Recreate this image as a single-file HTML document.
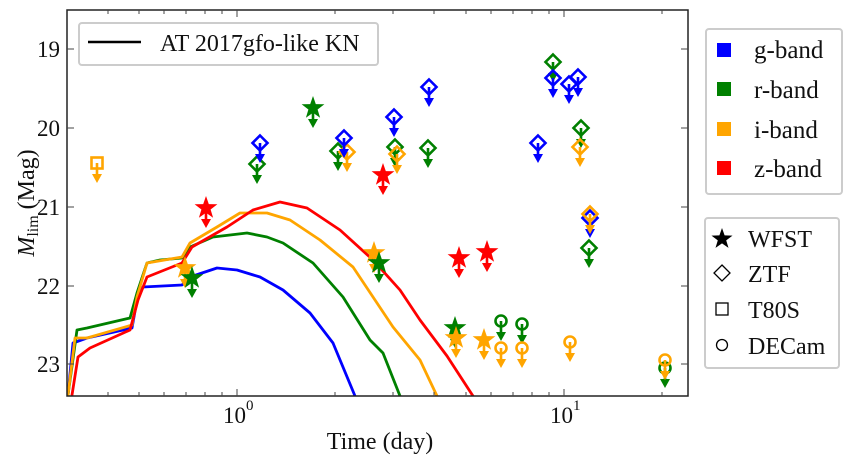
<!DOCTYPE html>
<html><head><meta charset="utf-8"><style>
body{margin:0;background:#fff}
svg{display:block}
text{font-family:"Liberation Serif",serif;fill:#111}
</style></head><body>
<svg width="852" height="465" viewBox="0 0 852 465" xmlns="http://www.w3.org/2000/svg">
<defs>
<g id="arr"><line x1="0" y1="0" x2="0" y2="14" stroke="currentColor" stroke-width="2.6"/><polygon points="-5,11 5,11 0,20" fill="currentColor"/></g>
<g id="dia"><polygon points="0,-7.5 7.5,0 0,7.5 -7.5,0" fill="none" stroke="currentColor" stroke-width="2.6"/><use href="#arr"/></g>
<g id="sq"><rect x="-5.5" y="-5.5" width="11" height="11" fill="none" stroke="currentColor" stroke-width="2.6"/><use href="#arr"/></g>
<g id="cir"><circle r="5.5" fill="none" stroke="currentColor" stroke-width="2.6"/><use href="#arr"/></g>
<g id="star"><polygon points="0,-12 2.8,-3.9 11.4,-3.7 4.6,1.5 7.1,9.7 0,4.8 -7.1,9.7 -4.6,1.5 -11.4,-3.7 -2.8,-3.9" fill="currentColor"/><use href="#arr"/></g>
<clipPath id="cp"><rect x="67" y="10" width="621" height="386"/></clipPath>
</defs>
<g clip-path="url(#cp)" fill="none" stroke-width="2.8" stroke-linejoin="round" stroke-linecap="round">
<polyline stroke="#0000ff" points="68,395 73,343 87,338 132,328 137,300 143,287 182,285 190,277 217,268 237,270 260,277 283,290 310,313 333,343 355,396"/>
<polyline stroke="#008000" points="68,395 77,330 87,328 130,318 137,293 147,263 160,260 182,258 190,247 213,237 247,233 267,237 283,243 313,263 343,297 370,340 383,353 400,396"/>
<polyline stroke="#ffa500" points="68,395 75,338 87,338 132,325 137,297 147,263 182,257 190,243 217,227 240,213 267,213 290,220 320,240 353,267 377,303 393,327 420,360 437,396"/>
<polyline stroke="#ff0000" points="72,395 78,357 90,348 130,330 138,300 147,277 182,263 192,247 227,227 253,210 280,202 307,208 340,230 373,260 400,290 420,320 447,356 473,396"/>
</g>
<g>
<use href="#sq" x="97" y="163" style="color:#ffa500"/>
<use href="#dia" x="257" y="164" style="color:#008000"/>
<use href="#dia" x="260" y="143" style="color:#0000ff"/>
<use href="#star" x="206" y="208" style="color:#ff0000"/>
<use href="#star" x="185" y="268" style="color:#ffa500"/>
<use href="#star" x="192" y="278" style="color:#008000"/>
<use href="#star" x="313" y="108" style="color:#008000"/>
<use href="#dia" x="338" y="151" style="color:#008000"/>
<use href="#dia" x="347" y="152" style="color:#ffa500"/>
<use href="#dia" x="344" y="138" style="color:#0000ff"/>
<use href="#dia" x="395" y="147" style="color:#008000"/>
<use href="#dia" x="397" y="154" style="color:#ffa500"/>
<use href="#dia" x="394" y="117" style="color:#0000ff"/>
<use href="#star" x="383" y="175" style="color:#ff0000"/>
<use href="#star" x="374" y="253" style="color:#ffa500"/>
<use href="#star" x="379" y="263" style="color:#008000"/>
<use href="#dia" x="429" y="87" style="color:#0000ff"/>
<use href="#dia" x="428" y="148" style="color:#008000"/>
<use href="#dia" x="553" y="62" style="color:#008000"/>
<use href="#dia" x="553" y="78" style="color:#0000ff"/>
<use href="#dia" x="569" y="84" style="color:#0000ff"/>
<use href="#dia" x="578" y="77" style="color:#0000ff"/>
<use href="#dia" x="538" y="143" style="color:#0000ff"/>
<use href="#dia" x="581" y="128" style="color:#008000"/>
<use href="#dia" x="580" y="147" style="color:#ffa500"/>
<use href="#dia" x="590" y="218" style="color:#0000ff"/>
<use href="#dia" x="590" y="214" style="color:#ffa500"/>
<use href="#dia" x="589" y="248" style="color:#008000"/>
<use href="#star" x="459" y="258" style="color:#ff0000"/>
<use href="#star" x="487" y="252" style="color:#ff0000"/>
<use href="#star" x="455" y="328" style="color:#008000"/>
<use href="#star" x="456" y="338" style="color:#ffa500"/>
<use href="#star" x="484" y="340" style="color:#ffa500"/>
<use href="#cir" x="501" y="321" style="color:#008000"/>
<use href="#cir" x="522" y="324" style="color:#008000"/>
<use href="#cir" x="501" y="348" style="color:#ffa500"/>
<use href="#cir" x="522" y="348" style="color:#ffa500"/>
<use href="#cir" x="570" y="342" style="color:#ffa500"/>
<use href="#cir" x="665" y="368" style="color:#008000"/>
<use href="#cir" x="665" y="360" style="color:#ffa500"/>
</g>
<rect x="67" y="10" width="621" height="386" fill="none" stroke="#222" stroke-width="1.5"/>
<g stroke="#444" stroke-width="1">
<path d="M237,396v-7M564,396v-7M237,10v7M564,10v7"/>
<path d="M108,396v-4M139,396v-4M164,396v-4M186,396v-4M205,396v-4M222,396v-4M335,396v-4M393,396v-4M434,396v-4M466,396v-4M491,396v-4M513,396v-4M532,396v-4M549,396v-4M662,396v-4"/>
<path d="M108,10v4M139,10v4M164,10v4M186,10v4M205,10v4M222,10v4M335,10v4M393,10v4M434,10v4M466,10v4M491,10v4M513,10v4M532,10v4M549,10v4M662,10v4"/>
<path d="M67,49h7M67,128h7M67,207h7M67,286h7M67,364h7M688,49h-7M688,128h-7M688,207h-7M688,286h-7M688,364h-7"/>
</g>
<g font-size="23" text-anchor="end">
<text x="60" y="57">19</text><text x="60" y="136">20</text><text x="60" y="215">21</text><text x="60" y="294">22</text><text x="60" y="372">23</text>
</g>
<text x="223" y="423" font-size="23">10</text><text x="246" y="410" font-size="15">0</text>
<text x="550" y="423" font-size="23">10</text><text x="573" y="410" font-size="15">1</text>
<text x="380" y="449" font-size="24" text-anchor="middle">Time (day)</text>
<text transform="translate(34,203) rotate(-90)" font-size="24" text-anchor="middle"><tspan font-style="italic">M</tspan><tspan font-size="16" dy="4">lim</tspan><tspan dy="-4"> (Mag)</tspan></text>
<rect x="79" y="23" width="299" height="42" rx="3" fill="#fff" stroke="#ccc" stroke-width="2"/>
<line x1="88" y1="42" x2="141" y2="42" stroke="#000" stroke-width="2.6"/>
<text x="160" y="51" font-size="24">AT 2017gfo-like KN</text>
<rect x="706" y="29" width="136" height="165" rx="3" fill="#fff" stroke="#ccc" stroke-width="2"/>
<rect x="717" y="43" width="14" height="14" fill="#0000ff"/>
<rect x="717" y="82" width="14" height="14" fill="#008000"/>
<rect x="717" y="122" width="14" height="14" fill="#ffa500"/>
<rect x="717" y="161" width="14" height="14" fill="#ff0000"/>
<g font-size="25"><text x="754" y="58">g-band</text><text x="754" y="98">r-band</text><text x="754" y="138">i-band</text><text x="754" y="177">z-band</text></g>
<rect x="705" y="218" width="134" height="150" rx="3" fill="#fff" stroke="#ccc" stroke-width="2"/>
<polygon transform="translate(722,239)" points="0,-11 2.6,-3.6 10.5,-3.4 4.2,1.4 6.5,8.9 0,4.4 -6.5,8.9 -4.2,1.4 -10.5,-3.4 -2.6,-3.6" fill="#000"/>
<polygon transform="translate(722,273)" points="0,-8 8,0 0,8 -8,0" fill="none" stroke="#000" stroke-width="1.3"/>
<rect x="716" y="303" width="12" height="12" fill="none" stroke="#000" stroke-width="1.3"/>
<circle cx="722" cy="345" r="5.5" fill="none" stroke="#000" stroke-width="1.3"/>
<g font-size="24"><text x="748" y="247">WFST</text><text x="748" y="282">ZTF</text><text x="748" y="318">T80S</text><text x="748" y="354">DECam</text></g>
</svg>
</body></html>
